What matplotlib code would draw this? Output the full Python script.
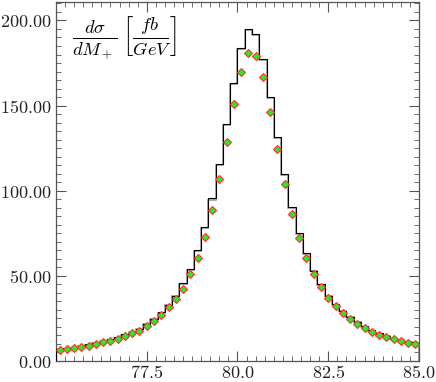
import numpy as np
import matplotlib
matplotlib.use('Agg')
import matplotlib.pyplot as plt
from matplotlib.ticker import MultipleLocator, FuncFormatter

# bin edges (GeV) and contents
edges = np.round(np.arange(75.0, 85.0001, 0.2), 1)

hist_black = [6.8, 7.4, 8.0, 8.8, 9.7, 10.7, 11.8, 12.8, 13.9, 15.7,
              17.2, 18.8, 21.8, 24.7, 28.6, 33.1, 38.4, 45.7, 53.9, 65.3,
              78.6, 95.5, 115.7, 139.2, 163.3, 183.7, 194.9, 192.2, 177.5, 155.1,
              131.6, 109.6, 90.4, 75.1, 63.5, 53.1, 45.1, 38.4, 33.5, 29.5,
              26.0, 23.0, 20.3, 18.2, 16.4, 14.7, 13.4, 12.3, 11.4, 10.6]

hist_gray = [6.6, 7.2, 7.8, 8.6, 9.5, 10.5, 11.6, 12.6, 13.7, 15.5,
             17.0, 18.6, 21.5, 24.4, 28.3, 32.7, 38.0, 45.2, 53.4, 64.7,
             78.0, 94.8, 115.0, 138.5, 162.5, 183.0, 194.5, 191.5, 176.8, 154.4,
             131.0, 109.0, 89.8, 74.6, 63.0, 52.6, 44.7, 38.0, 33.1, 29.1,
             25.7, 22.7, 20.0, 17.9, 16.1, 14.5, 13.2, 12.1, 11.2, 10.4]

points = [6.3, 6.9, 7.4, 8.2, 9.0, 10.0, 11.0, 11.9, 12.9, 14.7,
          16.3, 17.8, 20.6, 23.7, 26.9, 31.5, 36.4, 42.5, 50.8, 60.5,
          73.0, 88.5, 107.0, 128.6, 151.0, 170.0, 181.0, 179.2, 166.5, 146.3,
          124.7, 104.0, 86.5, 72.0, 60.6, 51.0, 43.5, 37.2, 32.2, 28.0,
          24.7, 21.8, 19.2, 17.2, 15.5, 13.9, 12.7, 11.6, 10.8, 10.0]

xticks = [77.5, 80.0, 82.5, 85.0]

plt.rcParams['mathtext.fontset'] = 'cm'
plt.rcParams['font.family'] = 'serif'
plt.rcParams['font.serif'] = ['DejaVu Serif']

fig = plt.figure(figsize=(4.36, 3.82), dpi=100)
ax = fig.add_axes([0.1284, 0.055, 0.8326, 0.9405])

centers = (edges[:-1] + edges[1:]) / 2
ax.stairs(hist_gray, edges, color='#999999', lw=1.2, zorder=2)
ax.stairs(hist_black, edges, color='black', lw=0.8, zorder=3)
ax.plot(centers, points, ls='none', marker='D', ms=4.0, mfc='#22ee22',
        mec='#ff3030', mew=0.8, zorder=4)

ax.set_xlim(75.0, 85.0)
ax.set_ylim(0, 211)
ax.set_xticks(xticks)
ax.xaxis.set_minor_locator(MultipleLocator(0.25))
ax.yaxis.set_major_locator(MultipleLocator(50))
ax.yaxis.set_minor_locator(MultipleLocator(5))
ax.xaxis.set_major_formatter(FuncFormatter(lambda v, p: '$%.1f$' % v))
ax.yaxis.set_major_formatter(FuncFormatter(lambda v, p: '$%.2f$' % v))

for s in ax.spines.values():
    s.set_color('#555555')
    s.set_linewidth(0.9)
ax.tick_params(which='both', direction='in', top=True, right=True,
               color='#555555', labelsize=13, labelcolor='#222222')
ax.tick_params(which='major', length=7, width=0.8)
ax.tick_params(axis='y', which='major', pad=3.5)
ax.tick_params(axis='x', which='major', pad=2.5)
ax.tick_params(which='minor', length=3.5, width=0.6)

ax.text(0.045, 0.965, r'$\frac{d\sigma}{dM_+}\,\left[\frac{fb}{GeV}\right]$',
        transform=ax.transAxes, ha='left', va='top', fontsize=19)

fig.savefig('out.png', dpi=100)
